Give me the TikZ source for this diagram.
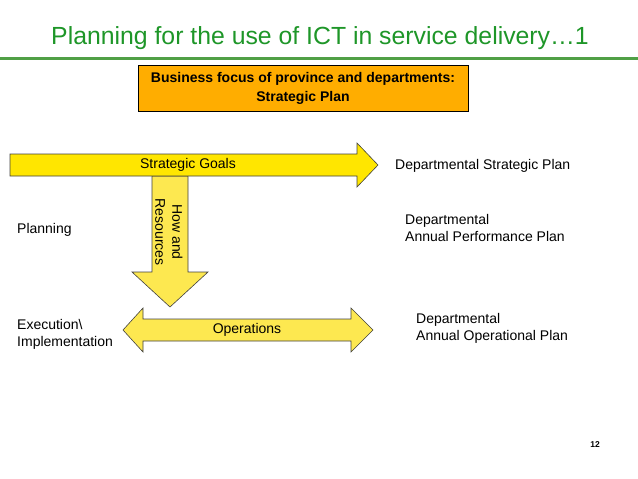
\documentclass[tikz,border=0pt]{standalone}
\usepackage{fontspec}
\setmainfont{Liberation Sans}
\usepackage{tikz}
\usetikzlibrary{positioning}
\definecolor{titlegreen}{RGB}{30,150,40}
\definecolor{rulegreen}{RGB}{80,160,70}
\definecolor{goalyellow}{RGB}{255,230,0}
\definecolor{softyellow}{RGB}{253,232,80}
\definecolor{focusorange}{RGB}{255,173,0}

\begin{document}
\begin{tikzpicture}[
  x=1pt, y=-1pt,
  font=\fontsize{14}{17.5}\selectfont,
  label/.style={anchor=west, align=left, inner sep=0pt},
  arrowtext/.style={inner sep=0pt, align=center},
  blockarrow/.style={draw=black!75, line width=0.6pt, line join=miter},
  focus/.style={draw=black, line width=0.8pt, fill=focusorange, align=center,
                minimum width=330pt, minimum height=46pt, inner sep=0pt,
                font=\fontsize{14}{19}\selectfont\bfseries}]
  \useasboundingbox (0,0) rectangle (638,479);
  % title and rule
  \node[font=\fontsize{24.8}{28}\selectfont, text=titlegreen, inner sep=0pt] (title)
    at (320,38.5) {Planning for the use of ICT in service delivery\ldots1};
  \draw[rulegreen, line width=3.5pt] (0,58.5) -- (638,58.5);
  \node[focus] (focus) at (303,88) {Business focus of province and departments:\\Strategic Plan};
  % block arrows
  \draw[blockarrow, fill=softyellow] (152,176) -- (152,272) -- (132,272) -- (170,307)
    -- (208,272) -- (188,272) -- (188,176) -- cycle;
  \draw[blockarrow, fill=goalyellow] (10,154) -- (357,154) -- (357,143) -- (378,165)
    -- (357,187) -- (357,176) -- (10,176) -- cycle;
  \draw[blockarrow, fill=softyellow] (123,330) -- (143,308) -- (143,319) -- (351,319)
    -- (351,308) -- (373,330) -- (351,352) -- (351,341) -- (143,341) -- (143,352) -- cycle;
  \node[arrowtext] (goals) at (188,165) {Strategic Goals};
  \node[arrowtext, rotate=-90, font=\fontsize{14}{17}\selectfont] (howres) at (169,232) {How and\\Resources};
  \node[arrowtext] (ops) at (247,330) {Operations};
  % left side
  \node[label] (plan) at (17,230) {Planning};
  \node[label] (exec) at (17,334.5) {Execution\textbackslash\\Implementation};
  % right side
  \node[label] (dsp) at (395,166) {Departmental Strategic Plan};
  \node[label] (app) at (405,228) {Departmental\\Annual Performance Plan};
  \node[label] (aop) at (416,328.5) {Departmental\\Annual Operational Plan};
  \node[font=\fontsize{8.5}{10}\selectfont\bfseries, inner sep=0pt] (pnum) at (595,445) {12};
\end{tikzpicture}
\end{document}
